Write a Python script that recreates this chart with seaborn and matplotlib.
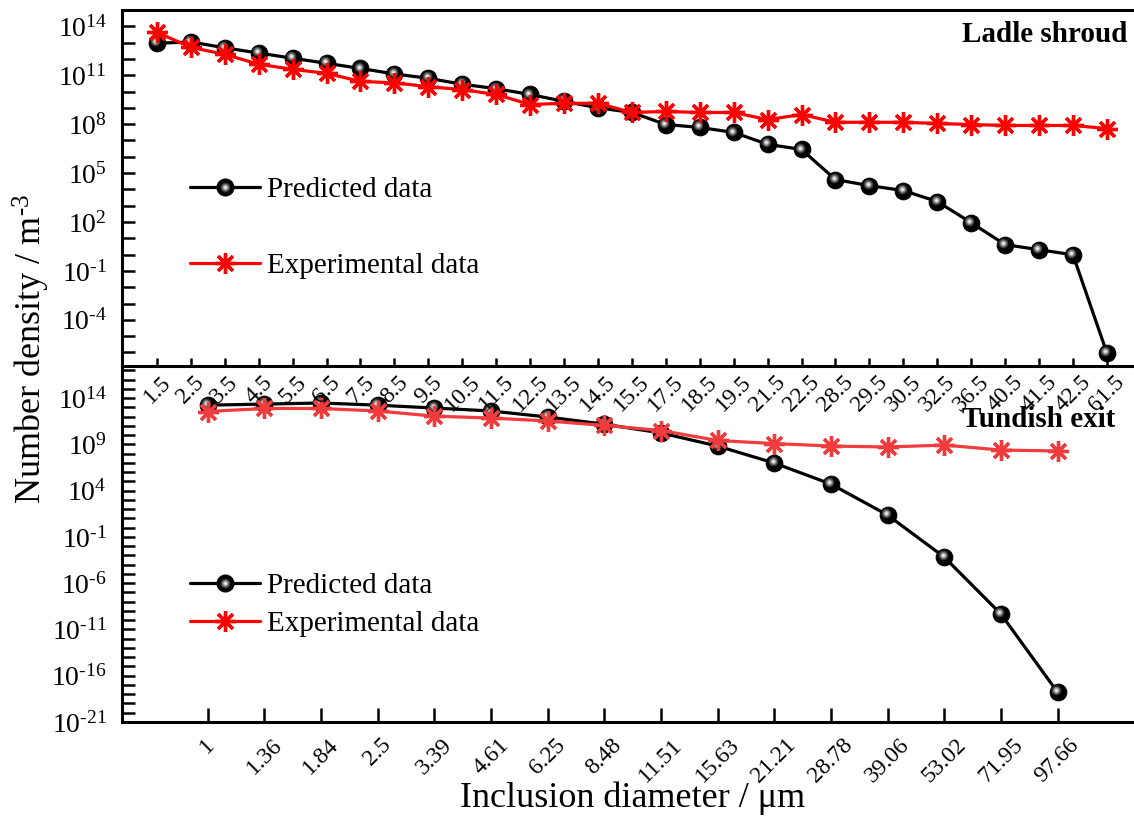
import matplotlib
matplotlib.use("Agg")
import numpy as np
import pandas as pd
import matplotlib.pyplot as plt
import matplotlib.transforms as mtransforms
from matplotlib.lines import Line2D
from matplotlib.legend_handler import HandlerTuple
from matplotlib.ticker import FixedLocator, FuncFormatter, NullFormatter
import seaborn as sns

# ---- Ladle shroud: size classes (µm) and number densities (m^-3) ----
ladle_sizes = ["1.5", "2.5", "3.5", "4.5", "5.5", "6.5", "7.5", "8.5", "9.5", "10.5",
               "11.5", "12.5", "13.5", "14.5", "15.5", "17.5", "18.5", "19.5", "21.5",
               "22.5", "28.5", "29.5", "30.5", "32.5", "36.5", "40.5", "41.5", "42.5", "61.5"]
ladle_pred = [9.1e12, 1.1e13, 4.8e12, 2.3e12, 1.1e12, 5.4e11, 2.6e11, 1.2e11, 6.5e10, 2.8e10,
              1.5e10, 6.6e9, 2.5e9, 1.0e9, 5.2e8, 9.5e7, 6.3e7, 3.1e7, 5.8e6,
              2.8e6, 4.0e4, 1.7e4, 8.5e3, 1.8e3, 91.0, 4.1, 2.0, 0.98, 9.5e-7]
ladle_exp = [4.3e13, 5.1e12, 1.9e12, 4.7e11, 2.3e11, 1.3e11, 4.2e10, 3.4e10, 2.0e10, 1.3e10,
             6.6e9, 1.6e9, 1.9e9, 1.9e9, 5.2e8, 6.0e8, 5.2e8, 5.2e8, 1.9e8,
             3.9e8, 1.3e8, 1.3e8, 1.3e8, 1.1e8, 9.5e7, 8.3e7, 8.3e7, 8.3e7, 5.4e7]

# ---- Tundish exit: size classes (µm) and number densities (m^-3) ----
tundish_sizes = ["1", "1.36", "1.84", "2.5", "3.39", "4.61", "6.25", "8.48", "11.51",
                 "15.63", "21.21", "28.78", "39.06", "53.02", "71.95", "97.66"]
tundish_pred = [1.7e13, 2.2e13, 2.9e13, 1.7e13, 8.3e12, 4.0e12, 8.9e11, 1.5e11, 1.7e10,
                6.5e8, 9.5e6, 5.1e4, 23.0, 6.6e-4, 4.7e-10, 1.7e-18]
tundish_exp = [3.5e12, 7.4e12, 7.4e12, 4.0e12, 1.1e12, 6.9e11, 3.3e11, 1.1e11, 3.1e10,
               2.6e9, 1.2e9, 6.5e8, 5.1e8, 8.3e8, 2.4e8, 1.9e8]

sns.set_theme(style="ticks")
plt.rcParams.update({
    "font.family": ["Liberation Serif", "DejaVu Serif"],
    "mathtext.fontset": "custom",
    "mathtext.rm": "Liberation Serif",
    "mathtext.it": "Liberation Serif:italic",
    "mathtext.bf": "Liberation Serif:bold",
    "axes.unicode_minus": False,
    "text.color": "black",
    "axes.labelcolor": "black",
    "axes.edgecolor": "black",
    "xtick.color": "black",
    "ytick.color": "black",
})

RED_TOP = "#ff0000"
RED_BOT = "#f03c3c"
STAR = (8, 2, 0)
LW = 2.3
BALL = 12
STAR_MS = 15

W, H = 1134, 819
fig = plt.figure(figsize=(W / 100, H / 100), dpi=100)
left = 122 / W
ax_bot = fig.add_axes([left, 1 - 722 / H, 1 - left, 356 / H])
ax_top = fig.add_axes([left, 1 - 366 / H, 1 - left, 356 / H])
for ax in (ax_top, ax_bot):
    ax.set_facecolor("none")
    ax.set_yscale("log")

SHINE = [(7, "#3c3c3c"), (5, "#7a7a7a"), (3.2, "#c8c8c8"), (1.6, "#f2f2f2")]


def draw_balls(ax, df, col):
    sns.lineplot(data=df, x="size", y=col, ax=ax, color="black", linewidth=LW,
                 marker="o", markersize=BALL, markerfacecolor="black",
                 markeredgecolor="black", errorbar=None, legend=False, zorder=3)
    # glossy highlight on each sphere
    shift = mtransforms.offset_copy(ax.transData, fig=fig, x=-1.2, y=1.4, units="points")
    for ms, c in SHINE:
        ax.plot(df["size"], df[col], ls="none", marker="o", markersize=ms,
                markerfacecolor=c, markeredgecolor="none", transform=shift, zorder=4)


def draw_stars(ax, df, col, color):
    sns.lineplot(data=df, x="size", y=col, ax=ax, color=color, linewidth=LW,
                 marker=STAR, markersize=STAR_MS, markeredgecolor=color,
                 markeredgewidth=2.4, errorbar=None, legend=False, zorder=5)


ladle = pd.DataFrame({"size": ladle_sizes, "pred": ladle_pred, "exp": ladle_exp})
tundish = pd.DataFrame({"size": tundish_sizes, "pred": tundish_pred, "exp": tundish_exp})

draw_balls(ax_top, ladle, "pred")
draw_stars(ax_top, ladle, "exp", RED_TOP)
draw_balls(ax_bot, tundish, "pred")
draw_stars(ax_bot, tundish, "exp", RED_BOT)

# ---- axes limits, ticks and frame ----
ax_top.set_xlim(-1.03, len(ladle_sizes) - 1 + 0.8)
ax_top.set_ylim(10 ** -6.83, 1e15)
ax_bot.set_xlim(-1.51, len(tundish_sizes) - 1 + 1.35)
ax_bot.set_ylim(1e-21, 10 ** 17.46)


def pow10_label(v, pos):
    e = int(round(np.log10(v)))
    return r"10$^{\text{%d}}$" % e


ax_top.yaxis.set_major_locator(FixedLocator(10.0 ** np.arange(-4, 15, 3)))
ax_top.yaxis.set_minor_locator(FixedLocator(10.0 ** np.arange(-6, 16)))
ax_bot.yaxis.set_major_locator(FixedLocator(10.0 ** np.arange(-21, 15, 5)))
ax_bot.yaxis.set_minor_locator(FixedLocator(10.0 ** np.arange(-21, 18)))
for ax in (ax_top, ax_bot):
    ax.yaxis.set_major_formatter(FuncFormatter(pow10_label))
    ax.yaxis.set_minor_formatter(NullFormatter())
    ax.tick_params(axis="y", which="both", direction="in", length=9, width=1.8,
                   labelsize=20, pad=11, right=False)
    ax.tick_params(axis="x", which="minor", bottom=False, top=False)
    ax.set_xlabel("")
    ax.set_ylabel("")
    ax.spines["right"].set_visible(False)
    for s in ("left", "top", "bottom"):
        ax.spines[s].set_linewidth(2.2)

ax_top.tick_params(axis="x", which="major", direction="in", length=6, width=1.8,
                   labelsize=17, pad=4, labelrotation=45)
ax_bot.tick_params(axis="x", which="major", direction="in", length=10, width=1.8,
                   labelsize=17, pad=9, labelrotation=45)
ax_bot.spines["top"].set_visible(False)

# ---- legends ----
def ball_handle():
    base = Line2D([], [], color="black", linewidth=LW, marker="o", markersize=BALL,
                  markerfacecolor="black", markeredgecolor="black")
    shine = [Line2D([], [], ls="none", marker="o", markersize=ms,
                    markerfacecolor=c, markeredgecolor="none") for ms, c in SHINE]
    return tuple([base] + shine)


def star_handle():
    return Line2D([], [], color=RED_TOP, linewidth=LW, marker=STAR, markersize=STAR_MS,
                  markeredgecolor=RED_TOP, markeredgewidth=2.4)


labels = ["Predicted data", "Experimental data"]
for ax, y, spacing in [(ax_top, 0.388, 1.68), (ax_bot, 0.329, 0.42)]:
    ax.legend([ball_handle(), star_handle()], labels, loc="center left",
              bbox_to_anchor=(0.067, y), frameon=False, fontsize=21,
              labelspacing=spacing, handlelength=2.4, handletextpad=0.25,
              borderpad=0, borderaxespad=0,
              handler_map={tuple: HandlerTuple(ndivide=1, pad=0)})

ax_top.text(0.993, 0.930, "Ladle shroud", transform=ax_top.transAxes, ha="right",
            va="center", fontsize=21, fontweight="bold")
ax_bot.text(0.981, 0.851, "Tundish exit", transform=ax_bot.transAxes, ha="right",
            va="center", fontsize=21, fontweight="bold")

fig.text(633 / W, 1 - 798 / H, "Inclusion diameter / μm", ha="center", va="center",
         fontsize=26)
fig.text(31 / W, 1 - 349 / H, r"Number density / m$^{\text{-3}}$", ha="center",
         va="center", rotation=90, fontsize=26)

fig.savefig("out.png", dpi=100)
